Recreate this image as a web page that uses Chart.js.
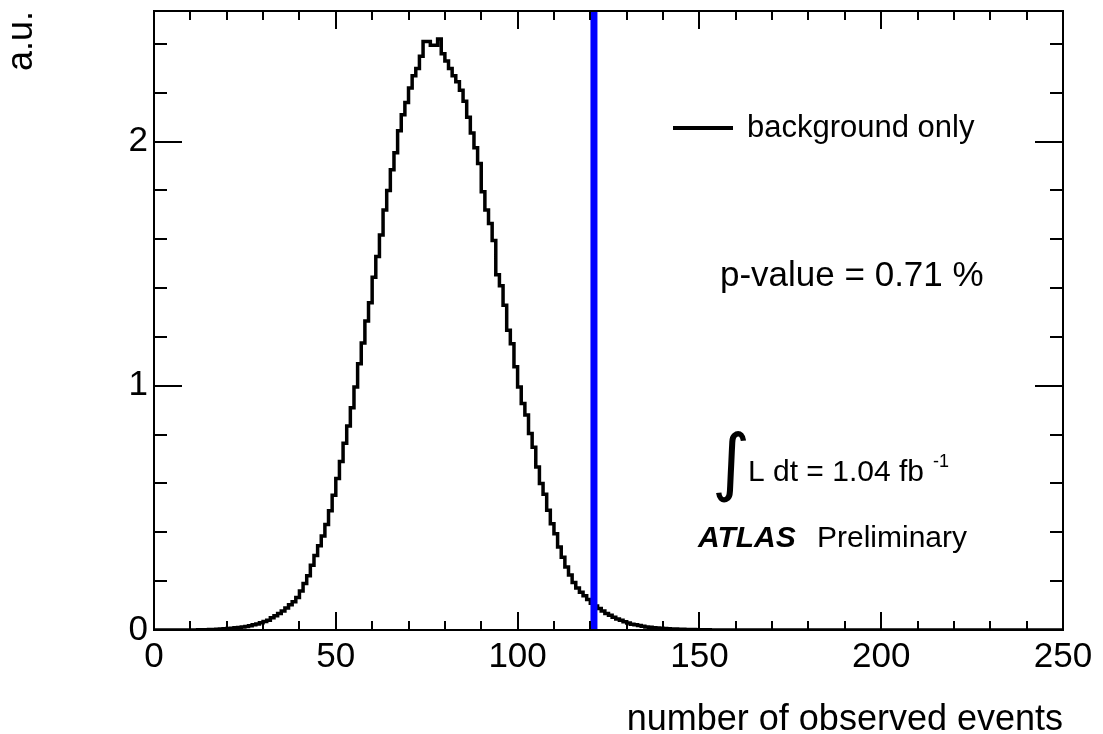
<!DOCTYPE html>
<html>
<head>
<meta charset="utf-8">
<script src="https://cdn.jsdelivr.net/npm/chart.js@4.4.1/dist/chart.umd.min.js"></script>
<style>
  html, body { margin: 0; padding: 0; background: #fff; }
  #wrap { width: 1103px; height: 734px; position: relative; }
</style>
</head>
<body>
<div id="wrap"><canvas id="chart"></canvas></div>
<script>
// background-only pseudo-experiments, one bin per observed event count (0..250)
var binWidth = 1;
var counts = [
  0, 0, 0, 0, 0, 0, 0, 0, 0, 0,
  0.000, 0.000, 0.001, 0.001, 0.001, 0.002, 0.002, 0.003, 0.004, 0.005,
  0.006, 0.007, 0.009, 0.010, 0.012, 0.014, 0.017, 0.021, 0.025, 0.030,
  0.035, 0.040, 0.050, 0.058, 0.068, 0.078, 0.090, 0.103, 0.116, 0.133,
  0.160, 0.190, 0.222, 0.265, 0.305, 0.345, 0.385, 0.432, 0.488, 0.552,
  0.620, 0.690, 0.765, 0.835, 0.910, 0.995, 1.090, 1.175, 1.265, 1.340,
  1.445, 1.530, 1.618, 1.720, 1.800, 1.885, 1.955, 2.045, 2.110, 2.160,
  2.220, 2.270, 2.300, 2.350, 2.410, 2.410, 2.395, 2.395, 2.420, 2.360,
  2.330, 2.300, 2.270, 2.245, 2.210, 2.165, 2.100, 2.035, 1.975, 1.910,
  1.795, 1.720, 1.665, 1.595, 1.455, 1.410, 1.330, 1.228, 1.172, 1.078,
  0.995, 0.928, 0.880, 0.805, 0.748, 0.668, 0.600, 0.556, 0.490, 0.435,
  0.394, 0.340, 0.298, 0.258, 0.225, 0.195, 0.172, 0.155, 0.140, 0.125,
  0.110, 0.098, 0.088, 0.078, 0.068, 0.060, 0.052, 0.045, 0.040, 0.034,
  0.029, 0.024, 0.021, 0.018, 0.015, 0.012, 0.011, 0.009, 0.008, 0.007,
  0.006, 0.005, 0.004, 0.004, 0.003, 0.003, 0.002, 0.002, 0.002, 0.001,
  0.001, 0.001, 0.001, 0, 0, 0, 0, 0, 0, 0,
  0, 0, 0, 0, 0, 0, 0, 0, 0, 0,
  0, 0, 0, 0, 0, 0, 0, 0, 0, 0,
  0, 0, 0, 0, 0, 0, 0, 0, 0, 0,
  0, 0, 0, 0, 0, 0, 0, 0, 0, 0,
  0, 0, 0, 0, 0, 0, 0, 0, 0, 0,
  0, 0, 0, 0, 0, 0, 0, 0, 0, 0,
  0, 0, 0, 0, 0, 0, 0, 0, 0, 0,
  0, 0, 0, 0, 0, 0, 0, 0, 0, 0,
  0, 0, 0, 0, 0, 0, 0, 0, 0, 0
];
var observed = 121;          // blue line, observed number of events
var xTicks = [0, 50, 100, 150, 200, 250];
var yTicks = [0, 1, 2];
var xRange = [0, 250];
var yRange = [0, 2.535];

var legendText = 'background only';
var pValueText = 'p-value = 0.71 %';
var lumiText = 'L dt = 1.04 fb';
var lumiExp = '-1';

var FONT = '"Liberation Sans", Arial, Helvetica, sans-serif';

// histogram as a stepped line, each point at the bin's lower edge
var histPoints = counts.map(function (v, i) { return { x: i * binWidth, y: v }; });
histPoints.push({ x: counts.length * binWidth, y: counts[counts.length - 1] });

// ROOT style frame: box with ticks pointing inwards on all four sides
var rootFrame = {
  id: 'rootFrame',
  afterDatasetsDraw: function (chart) {
    var ctx = chart.ctx;
    var a = chart.chartArea;
    var xs = chart.scales.x, ys = chart.scales.y;
    ctx.save();
    ctx.strokeStyle = '#000';
    ctx.lineWidth = 2;
    ctx.strokeRect(a.left, a.top, a.right - a.left, a.bottom - a.top);

    ctx.beginPath();
    for (var v = xRange[0]; v <= xRange[1]; v += 10) {
      var px = Math.round(xs.getPixelForValue(v));
      var len = (v % 50 === 0) ? 18 : 9;
      ctx.moveTo(px, a.bottom); ctx.lineTo(px, a.bottom - len);
      ctx.moveTo(px, a.top); ctx.lineTo(px, a.top + len);
    }
    for (var k = 0; k <= 12; k++) {
      var val = k * 0.2;
      var py = Math.round(ys.getPixelForValue(val));
      var l = (k % 5 === 0) ? 28 : 13;
      ctx.moveTo(a.left, py); ctx.lineTo(a.left + l, py);
      ctx.moveTo(a.right, py); ctx.lineTo(a.right - l, py);
    }
    ctx.stroke();

    // legend
    ctx.lineWidth = 4;
    ctx.beginPath();
    ctx.moveTo(673, 128); ctx.lineTo(733, 128);
    ctx.stroke();

    ctx.fillStyle = '#000';
    ctx.textAlign = 'left';
    ctx.textBaseline = 'alphabetic';
    ctx.font = '31px ' + FONT;
    ctx.fillText(legendText, 747, 137);

    ctx.font = '35px ' + FONT;
    ctx.fillText(pValueText, 720, 286);

    ctx.font = '74px "DejaVu Sans"';
    ctx.fillText('\u222B', 712, 487);
    ctx.font = '30px ' + FONT;
    ctx.fillText(lumiText, 748, 481);
    ctx.font = '18px ' + FONT;
    ctx.fillText(lumiExp, 933, 467);

    ctx.font = 'italic bold 30px ' + FONT;
    ctx.fillText('ATLAS', 698, 547);
    ctx.font = '30px ' + FONT;
    ctx.fillText('Preliminary', 817, 547);
    ctx.restore();
  }
};

new Chart(document.getElementById('chart'), {
  type: 'line',
  data: {
    datasets: [
      {
        label: 'observed',
        data: [{ x: observed, y: yRange[0] }, { x: observed, y: yRange[1] }],
        borderColor: '#0000ff',
        borderWidth: 7,
        pointRadius: 0,
        order: 0
      },
      {
        label: legendText,
        data: histPoints,
        stepped: true,
        borderColor: '#000',
        borderWidth: 3.5,
        pointRadius: 0,
        fill: false,
        order: 1
      }
    ]
  },
  options: {
    responsive: true,
    maintainAspectRatio: false,
    animation: false,
    devicePixelRatio: 1,
    layout: { padding: { top: 11, right: 40, left: 0, bottom: 0 } },
    plugins: { legend: { display: false }, tooltip: { enabled: false } },
    scales: {
      x: {
        type: 'linear',
        min: xRange[0], max: xRange[1],
        grid: { display: false, drawTicks: false },
        border: { display: false },
        afterBuildTicks: function (s) { s.ticks = xTicks.map(function (v) { return { value: v }; }); },
        afterFit: function (s) { s.height = 104; s.paddingLeft = 0; s.paddingRight = 0; },
        ticks: {
          color: '#000', padding: 6, maxRotation: 0, autoSkip: false,
          font: { family: FONT, size: 35 },
          callback: function (v) { return String(v); }
        },
        title: {
          display: true, text: 'number of observed events', align: 'end', color: '#000',
          font: { family: FONT, size: 36, lineHeight: 0.8 }, padding: 0
        }
      },
      y: {
        type: 'linear',
        min: yRange[0], max: yRange[1],
        grid: { display: false, drawTicks: false },
        border: { display: false },
        afterBuildTicks: function (s) { s.ticks = yTicks.map(function (v) { return { value: v }; }); },
        afterFit: function (s) { s.width = 154; s.paddingTop = 0; s.paddingBottom = 0; },
        ticks: {
          color: '#000', padding: 6, autoSkip: false,
          font: { family: FONT, size: 35 },
          callback: function (v) { return String(v); }
        },
        title: {
          display: true, text: 'a.u.', align: 'end', color: '#000',
          font: { family: FONT, size: 36, lineHeight: 1.2 }, padding: 0
        }
      }
    }
  },
  plugins: [rootFrame]
});
</script>
</body>
</html>
